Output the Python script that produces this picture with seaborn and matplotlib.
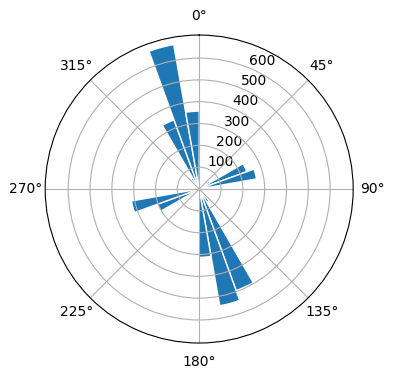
import numpy as np
import pandas as pd
import matplotlib
matplotlib.use("Agg")
import matplotlib.pyplot as plt
import seaborn as sns

# Direction bins (degrees, bin start) and counts per 10-degree bin
bin_start_deg = list(range(0, 360, 10))
counts = [30, 20, 15, 20, 40, 60, 232, 267, 40,
          20, 15, 25, 40, 50, 70, 495, 543, 313,
          30, 15, 10, 15, 20, 40, 203, 315, 40,
          20, 10, 15, 20, 40, 60, 337, 672, 357]
theta_ticks_deg = [0, 45, 90, 135, 180, 225, 270, 315]
r_ticks = [100, 200, 300, 400, 500, 600]

df = pd.DataFrame({
    "theta": np.deg2rad(np.array(bin_start_deg) + 5.0),
    "count": counts,
})

fig = plt.figure(figsize=(3.96, 3.80), dpi=100)
ax = fig.add_axes([0.1141, 0.0973, 0.7778, 0.8105], projection="polar")
ax.set_theta_zero_location("N")
ax.set_theta_direction(-1)

sns.barplot(data=df, x="theta", y="count", native_scale=True, width=1.0,
            color="#1f77b4", saturation=1, edgecolor="white", linewidth=1,
            errorbar=None, ax=ax)

ax.set_xlabel("")
ax.set_ylabel("")
ax.set_xticks(np.deg2rad(theta_ticks_deg))
ax.set_xticklabels([f"{t}°" for t in theta_ticks_deg])
ax.set_yticks(r_ticks)
ax.set_yticklabels([str(r) for r in r_ticks])
ax.grid(True)

fig.savefig("out.png", dpi=100)
